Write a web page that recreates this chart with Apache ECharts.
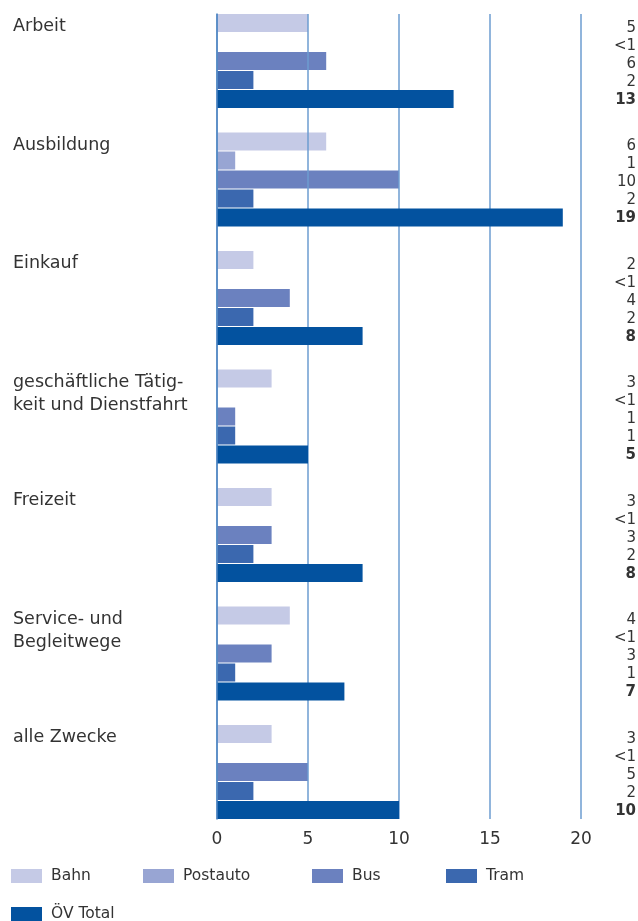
<!DOCTYPE html>
<html>
<head>
<meta charset="utf-8">
<script src="https://cdn.jsdelivr.net/npm/echarts@6/dist/echarts.min.js"></script>
<style>
  html, body { margin: 0; padding: 0; background: #fff; }
  #chart { width: 638px; height: 921px; }
</style>
</head>
<body>
<div id="chart"></div>
<script>
// Wege nach Zweck: Anteile des öffentlichen Verkehrs in Prozent
const categories = [
  'Arbeit',
  'Ausbildung',
  'Einkauf',
  'geschäftliche Tätig-\nkeit und Dienstfahrt',
  'Freizeit',
  'Service- und\nBegleitwege',
  'alle Zwecke'
];
const seriesNames = ['Bahn', 'Postauto', 'Bus', 'Tram', 'ÖV Total'];
const bahn     = [5, 6, 2, 3, 3, 4, 3];
const postauto = [0, 1, 0, 0, 0, 0, 0];   // 0 steht für "unter 1" (<1)
const bus      = [6, 10, 4, 1, 3, 3, 5];
const tram     = [2, 2, 2, 1, 2, 1, 2];
const oevTotal = [13, 19, 8, 5, 8, 7, 10];
const xTicks   = [0, 5, 10, 15, 20];

const values = [bahn, postauto, bus, tram, oevTotal];
const colors = ['#c5cae6', '#98a5d3', '#6b81bf', '#3b68af', '#03529f'];
const FONT = 'DejaVu Sans';
const TEXT = '#333';

function fmt(v) { return v < 1 ? '<1' : String(v); }

// value column on the right: one text per bar
const valueLabels = [];
values.forEach((arr, k) => arr.forEach((v, i) => valueLabels.push([0, i, k, v])));

function renderValue(params, api) {
  const cat = api.value(1), k = api.value(2), v = api.value(3);
  const c = api.coord([0, cat]);
  const cs = params.coordSys;
  return {
    type: 'text',
    x: cs.x + cs.width + 55,
    y: c[1] - 33 + 18 * k,
    style: {
      text: fmt(v),
      align: 'right',
      verticalAlign: 'middle',
      fill: TEXT,
      font: (k === 4 ? 'bold ' : '') + '15px "' + FONT + '"'
    }
  };
}

const legendLeft = [11, 143, 312, 446, 11];
const legendTop  = [868, 868, 868, 868, 906];

const chart = echarts.init(document.getElementById('chart'));
chart.setOption({
  animation: false,
  backgroundColor: '#fff',
  grid: [
    { left: 217, right: 57, top: 1.75, height: 829.5 },   // bars
    { left: 217, right: 57, top: 14, height: 805 }          // axis lines + ticks
  ],
  xAxis: [
    { type: 'value', gridIndex: 0, min: xTicks[0], max: xTicks[xTicks.length - 1], show: false },
    {
      type: 'value', gridIndex: 1, z: 3,
      min: xTicks[0], max: xTicks[xTicks.length - 1], interval: xTicks[1] - xTicks[0],
      axisLine: { show: false }, axisTick: { show: false },
      splitLine: { show: true, lineStyle: { color: '#6c9cd1', width: 1.5 } },
      axisLabel: { margin: 12, fontSize: 17, fontFamily: FONT, color: TEXT }
    }
  ],
  yAxis: [
    {
      type: 'category', gridIndex: 0, data: categories, inverse: true,
      axisLine: { show: false }, axisTick: { show: false }, splitLine: { show: false },
      axisLabel: {
        interval: 0, align: 'left', margin: 204, verticalAlign: 'middle',
        lineHeight: 23, padding: [0, 0, 8, 0],
        fontSize: 17.5, fontFamily: FONT, color: TEXT,
        formatter: name => name + '\n'.repeat(4 - name.split('\n').length)
      }
    },
    {
      type: 'value', gridIndex: 1, min: 0, max: 1, z: 5,
      axisLine: { show: true, lineStyle: { color: '#4f86c2', width: 1.5 } },
      axisTick: { show: false }, axisLabel: { show: false }, splitLine: { show: false }
    }
  ],
  legend: seriesNames.map((n, k) => ({
    data: [n],
    left: legendLeft[k], top: legendTop[k],
    padding: 0, icon: 'rect', itemWidth: 31, itemHeight: 14,
    selectedMode: false,
    textStyle: { fontSize: 15.5, fontFamily: FONT, color: TEXT, padding: [0, 0, 0, 4] }
  })),
  series: values.map((d, k) => ({
    type: 'bar',
    name: seriesNames[k],
    data: d,
    xAxisIndex: 0, yAxisIndex: 0,
    barWidth: 18, barGap: '5.56%',
    itemStyle: { color: colors[k] },
    z: k === 4 ? 4 : 2,
    silent: true
  })).concat([{
    type: 'custom',
    xAxisIndex: 0, yAxisIndex: 0,
    clip: false, silent: true, z: 6,
    encode: { x: 0, y: 1 },
    data: valueLabels,
    renderItem: renderValue
  }])
});
</script>
</body>
</html>
